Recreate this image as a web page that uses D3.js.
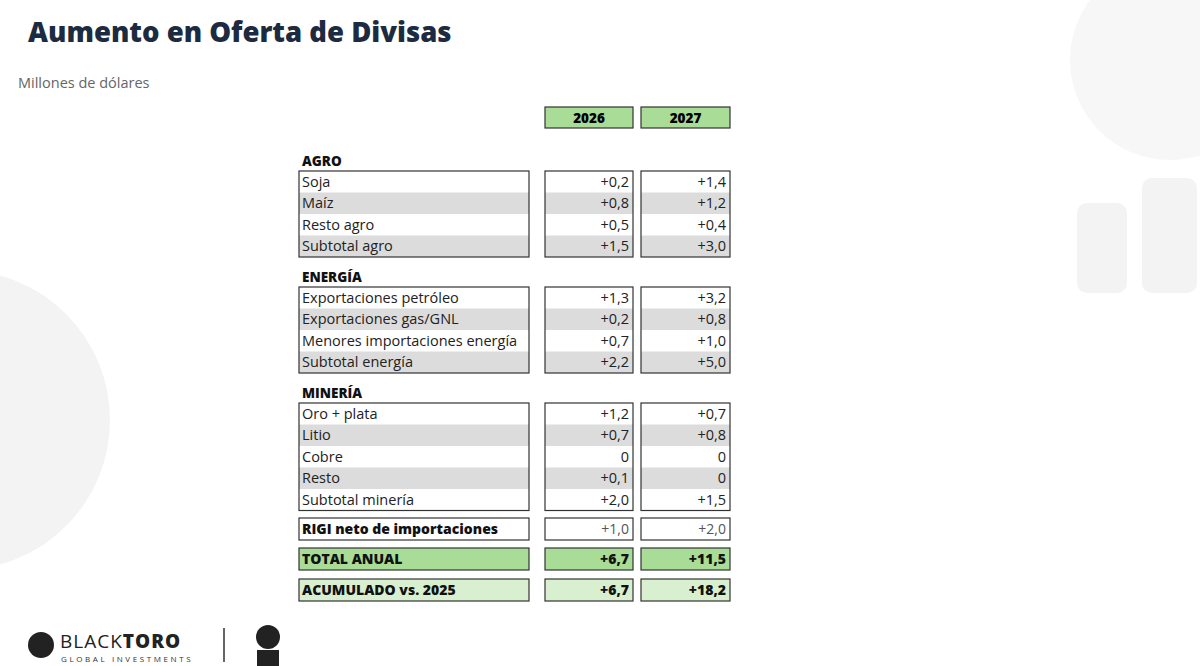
<!DOCTYPE html>
<html>
<head>
<meta charset="utf-8">
<title>Aumento en Oferta de Divisas</title>
<script src="https://cdn.jsdelivr.net/npm/d3@7"></script>
<style>
  body { margin: 0; background: #fff; font-family: "Open Sans", Lato, sans-serif; }
  svg text { font-family: "Open Sans", Lato, sans-serif; }
</style>
</head>
<body>
<svg id="chart" width="1200" height="666"></svg>
<script>
  // data
  years = ["2026", "2027"];
  agroLabels = ["Soja", "Maíz", "Resto agro", "Subtotal agro"];
  agro2026 = ["+0,2", "+0,8", "+0,5", "+1,5"];
  agro2027 = ["+1,4", "+1,2", "+0,4", "+3,0"];
  energiaLabels = ["Exportaciones petróleo", "Exportaciones gas/GNL", "Menores importaciones energía", "Subtotal energía"];
  energia2026 = ["+1,3", "+0,2", "+0,7", "+2,2"];
  energia2027 = ["+3,2", "+0,8", "+1,0", "+5,0"];
  mineriaLabels = ["Oro + plata", "Litio", "Cobre", "Resto", "Subtotal minería"];
  mineria2026 = ["+1,2", "+0,7", "0", "+0,1", "+2,0"];
  mineria2027 = ["+0,7", "+0,8", "0", "0", "+1,5"];
  sections = [
    { title: "AGRO", labels: agroLabels, a: agro2026, b: agro2027 },
    { title: "ENERGÍA", labels: energiaLabels, a: energia2026, b: energia2027 },
    { title: "MINERÍA", labels: mineriaLabels, a: mineria2026, b: mineria2027 }
  ];
  totals = [
    { label: "RIGI neto de importaciones", a: "+1,0", b: "+2,0", fill: "#fff", boldVals: false },
    { label: "TOTAL ANUAL", a: "+6,7", b: "+11,5", fill: "#a9dc97", boldVals: true },
    { label: "ACUMULADO vs. 2025", a: "+6,7", b: "+18,2", fill: "#d9f0d0", boldVals: true }
  ];

  svg = d3.select("#chart");

  // faint background marks
  bg = svg.append("g").attr("fill", "#f3f3f3");
  bg.append("circle").attr("cx", -40).attr("cy", 420).attr("r", 150);
  bg.append("circle").attr("cx", 1170).attr("cy", 60).attr("r", 100).attr("fill", "#f7f7f7");
  bg.append("rect").attr("x", 1077).attr("y", 203).attr("width", 50).attr("height", 90).attr("rx", 10);
  bg.append("rect").attr("x", 1142).attr("y", 178).attr("width", 55).attr("height", 115).attr("rx", 10);

  // titles
  svg.append("text").attr("x", 28).attr("y", 42)
    .attr("font-size", 27.5).attr("font-weight", 800).attr("fill", "#1c2b40")
    .text("Aumento en Oferta de Divisas");
  svg.append("text").attr("x", 18).attr("y", 88)
    .attr("font-size", 14.5).attr("fill", "#666")
    .text("Millones de dólares");

  // columns
  x = d3.scaleOrdinal().domain(["label", "2026", "2027"]).range([299, 545, 641]);
  w = d3.scaleOrdinal().domain(["label", "2026", "2027"]).range([230, 88, 89]);
  rowH = 21.5;

  // year header
  years.forEach(function(yr) {
    svg.append("rect").attr("x", x(yr)).attr("y", 107).attr("width", w(yr)).attr("height", 21)
      .attr("fill", "#a9dc97").attr("stroke", "#333").attr("stroke-width", 1.2);
    svg.append("text").attr("x", x(yr) + w(yr) / 2).attr("y", 122.5)
      .attr("text-anchor", "middle").attr("font-size", 13.5).attr("font-weight", 800)
      .text(yr);
  });

  function drawBlock(top, labels, a, b, shaded) {
    ["label", "2026", "2027"].forEach(function(col) {
      vals = col == "label" ? labels : (col == "2026" ? a : b);
      g = svg.append("g");
      g.selectAll("rect").data(vals).enter().append("rect")
        .attr("x", x(col)).attr("y", function(d, i) { return top + i * rowH; })
        .attr("width", w(col)).attr("height", rowH)
        .attr("fill", function(d, i) { return shaded && i % 2 == 1 ? "#dcdcdc" : "#fff"; });
      g.selectAll("text").data(vals).enter().append("text")
        .attr("x", col == "label" ? x(col) + 3 : x(col) + w(col) - 4)
        .attr("y", function(d, i) { return top + i * rowH + 15.5; })
        .attr("text-anchor", col == "label" ? "start" : "end")
        .attr("font-size", 14.5).attr("fill", "#222")
        .text(function(d) { return d; });
      g.append("rect").attr("x", x(col)).attr("y", top)
        .attr("width", w(col)).attr("height", vals.length * rowH)
        .attr("fill", "none").attr("stroke", "#333").attr("stroke-width", 1.2);
    });
  }

  tops = [171, 287, 403];
  sections.forEach(function(s, k) {
    svg.append("text").attr("x", 302).attr("y", tops[k] - 5)
      .attr("font-size", 13.5).attr("font-weight", 800).attr("fill", "#111").text(s.title);
    drawBlock(tops[k], s.labels, s.a, s.b, true);
  });

  totalTops = [518, 548, 579];
  totals.forEach(function(t, k) {
    ["label", "2026", "2027"].forEach(function(col) {
      svg.append("rect").attr("x", x(col)).attr("y", totalTops[k])
        .attr("width", w(col)).attr("height", 22)
        .attr("fill", t.fill).attr("stroke", "#333").attr("stroke-width", 1.2);
      isLabel = col == "label";
      svg.append("text")
        .attr("x", isLabel ? x(col) + 3 : x(col) + w(col) - 4)
        .attr("y", totalTops[k] + 16)
        .attr("text-anchor", isLabel ? "start" : "end")
        .attr("font-size", 14)
        .attr("font-weight", isLabel || t.boldVals ? 800 : 400)
        .attr("fill", isLabel || t.boldVals ? "#111" : "#555")
        .text(isLabel ? t.label : (col == "2026" ? t.a : t.b));
    });
  });

  // footer logos
  foot = svg.append("g");
  foot.append("circle").attr("cx", 41).attr("cy", 645).attr("r", 13).attr("fill", "#222");
  foot.append("text").attr("x", 60).attr("y", 648).attr("font-size", 19).attr("letter-spacing", 1)
    .attr("fill", "#222").html('BLACK<tspan font-weight="800">TORO</tspan>');
  foot.append("text").attr("x", 61).attr("y", 662).attr("font-size", 8).attr("letter-spacing", 2.6)
    .attr("fill", "#333").text("GLOBAL INVESTMENTS");
  foot.append("line").attr("x1", 224).attr("x2", 224).attr("y1", 628).attr("y2", 662)
    .attr("stroke", "#333").attr("stroke-width", 1.5);
  foot.append("circle").attr("cx", 268).attr("cy", 637).attr("r", 12).attr("fill", "#222");
  foot.append("rect").attr("x", 257).attr("y", 650).attr("width", 22).attr("height", 16).attr("fill", "#222");
</script>
</body>
</html>
